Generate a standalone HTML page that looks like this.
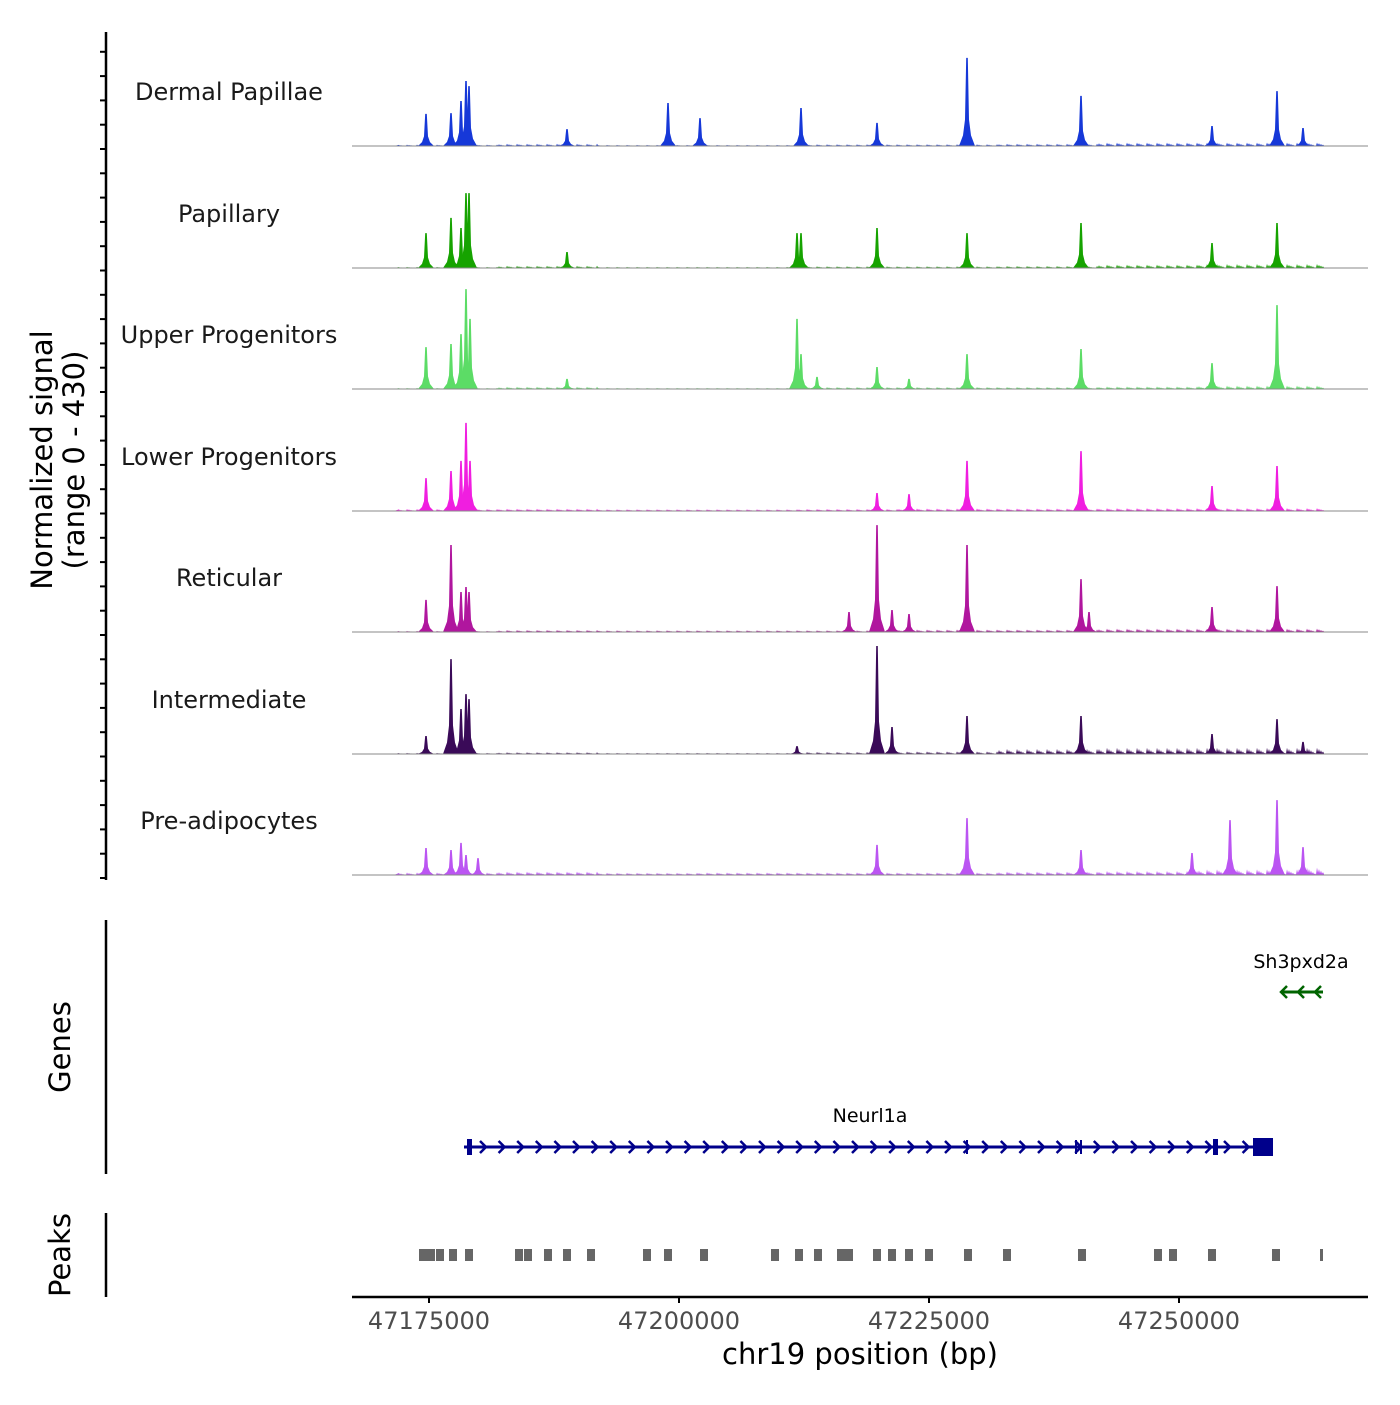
<!DOCTYPE html>
<html><head><meta charset="utf-8"><style>
body{margin:0;background:#fff}
svg text{font-family:"DejaVu Sans","Liberation Sans",sans-serif}
</style></head><body>
<svg id="chart" width="1400" height="1400" viewBox="0 0 1400 1400" xmlns="http://www.w3.org/2000/svg">
<rect width="1400" height="1400" fill="#fff"/>
<g id="tracks"></g>
<g id="leftaxis"></g>
<text transform="translate(52,460) rotate(-90)" text-anchor="middle" font-size="29">Normalized signal</text>
<text transform="translate(84,460) rotate(-90)" text-anchor="middle" font-size="29">(range 0 - 430)</text>
<line x1="106" y1="920" x2="106" y2="1174" stroke="#000" stroke-width="2.5"/>
<text transform="translate(70,1047) rotate(-90)" text-anchor="middle" font-size="29">Genes</text>
<line x1="106" y1="1213" x2="106" y2="1297" stroke="#000" stroke-width="2.5"/>
<text transform="translate(70,1255) rotate(-90)" text-anchor="middle" font-size="29">Peaks</text>
<g id="genes"></g>
<g id="peaks"></g>
<g id="xaxis"></g>
<text x="860" y="1364" text-anchor="middle" font-size="29">chr19 position (bp)</text>
</svg>
<script>
const trackNames = ["Dermal Papillae","Papillary","Upper Progenitors","Lower Progenitors","Reticular","Intermediate","Pre-adipocytes"];
const trackColors = ["#1638d8","#16a300","#5cdc66","#f01ee0","#b0169e","#3a0a58","#bb55f2"];
// peak positions (bp) and heights (normalized signal) per track
const dpPos = [47174700,47177200,47178200,47178700,47179000,47188800,47198900,47202100,47212200,47219800,47228800,47240200,47253300,47259800,47262400];
const dpVal = [114,117,160,231,213,60,153,99,135,82,313,178,71,195,64];
const papPos = [47174700,47177200,47178200,47178700,47179000,47188800,47211800,47212200,47219800,47228800,47240200,47253300,47259800];
const papVal = [124,178,142,266,266,57,124,124,142,124,160,89,160];
const upPos = [47174700,47177200,47178200,47178700,47179100,47188800,47211800,47212200,47213800,47219800,47223000,47228800,47240200,47253300,47259800];
const upVal = [149,160,195,355,249,36,249,124,43,78,36,124,142,92,298];
const lowPos = [47174700,47177200,47178200,47178700,47179100,47219800,47223000,47228800,47240200,47253300,47259800];
const lowVal = [117,142,178,313,178,64,60,178,213,89,160];
const retPos = [47174700,47177200,47178200,47178700,47179000,47217000,47219800,47221300,47223000,47228800,47240200,47241000,47253300,47259800];
const retVal = [114,309,142,160,142,71,380,78,64,309,188,71,89,163];
const intPos = [47174700,47177200,47178200,47178700,47179000,47211800,47219800,47221300,47228800,47240200,47253300,47259800,47262400];
const intVal = [64,337,160,213,195,28,384,96,135,135,71,124,43];
const prePos = [47174700,47177200,47178200,47178700,47179900,47219800,47228800,47240200,47251300,47255100,47259800,47262400];
const preVal = [96,89,114,71,60,107,202,89,78,195,266,99];
const trackPos = [dpPos,papPos,upPos,lowPos,retPos,intPos,prePos];
const trackVal = [dpVal,papVal,upVal,lowVal,retVal,intVal,preVal];
// background level per track over region bins
const bgBins = [47172000,47182000,47192000,47202000,47212000,47222000,47232000,47242000,47252000,47262000];
const dpBg = [5,8,4,4,6,6,8,12,12,12];
const papBg = [4,8,4,4,6,6,7,12,14,14];
const upBg = [4,8,4,4,7,7,7,9,12,12];
const lowBg = [7,8,6,6,7,9,9,10,10,10];
const retBg = [4,7,6,6,6,9,9,12,12,12];
const intBg = [4,6,4,4,7,9,18,22,22,22];
const preBg = [9,12,8,9,9,9,12,14,20,26];
const trackBg = [dpBg,papBg,upBg,lowBg,retBg,intBg,preBg];
const xTicks = [47175000,47200000,47225000,47250000];
const geneExons = [[47178800,47179300],[47228700,47228900],[47239600,47239800],[47240100,47240300],[47253400,47253900],[47257400,47259400]];
const peakStarts = [47174000,47174800,47175700,47177000,47178600,47183600,47184500,47186500,47188400,47190800,47196400,47198500,47202100,47209200,47211600,47213500,47215800,47216600,47219400,47220900,47222600,47224600,47228500,47232400,47239900,47247500,47249000,47252900,47259300];
const peakWidth = 800;

const NS="http://www.w3.org/2000/svg";
const X = bp => 429 + (bp-47175000)*0.01;
const baselines=[146,268,389,511,632,754,875];
const Y = (v,b)=> b - v*121/430;
const L=352,R=1368;
function mk(t,a,p){const e=document.createElementNS(NS,t);for(const k in a)e.setAttribute(k,a[k]);p.appendChild(e);return e;}
const tracks=document.getElementById('tracks');
trackNames.forEach((nm,i)=>{
  const b=baselines[i];
  const g=mk('g',{},tracks);
  
  
  let d='M'+X(47171500)+','+b;
  const bg=trackBg[i];
  bgBins.forEach((s,j)=>{
    const x0=X(s),x1=Math.min(X(s+10000),X(47264500));
    for(let x=x0;x<x1;x+=2){const h=bg[j]*(((x*7)%5)/5+0.2);d+=' L'+x+','+Y(h,b)+' L'+(x+1)+','+Y(h*0.3,b);}
  });
  d+=' L'+X(47264500)+','+b+' Z';
  const bp=mk('path',{d:d,fill:trackColors[i]},g);
  
  
  trackPos[i].forEach((p,j)=>{
    const x=X(p),v=trackVal[i][j];
    const pd='M'+(x-8)+','+b+' L'+(x-4)+','+Y(v*0.12,b)+' L'+(x-2)+','+Y(v*0.3,b)+' L'+(x-0.8)+','+Y(v,b)+' L'+(x+0.8)+','+Y(v,b)+' L'+(x+2)+','+Y(v*0.3,b)+' L'+(x+4)+','+Y(v*0.12,b)+' L'+(x+8)+','+b+' Z';
    const pk=mk('path',{d:pd,fill:trackColors[i]},g);
    
    
  });
  const bl=mk('line',{x1:L,x2:R,y1:b,y2:b,stroke:'#888','stroke-width':1},g);
  
  
  const t=mk('text',{x:229,y:b-46,'text-anchor':'middle','font-size':24,fill:'#1a1a1a'},g);
  t.textContent=nm;
  
  
});
const la=document.getElementById('leftaxis');
mk('line',{x1:106,y1:32,x2:106,y2:880,stroke:'#000','stroke-width':2.5},la);
for(let y=878;y>=34;y-=24.3){mk('line',{x1:100,x2:106,y1:y,y2:y,stroke:'#000','stroke-width':2},la);}
const ge=document.getElementById('genes');
const s1=mk('text',{x:1301,y:968,'text-anchor':'middle','font-size':19},ge);s1.textContent='Sh3pxd2a';


mk('line',{x1:1281,x2:1323,y1:992,y2:992,stroke:'#006400','stroke-width':3},ge);
[1287,1304,1321].forEach(x=>mk('path',{d:`M${x},986 L${x-6},992 L${x},998`,fill:'none',stroke:'#006400','stroke-width':2.5},ge));
const n1=mk('text',{x:870,y:1122,'text-anchor':'middle','font-size':19},ge);n1.textContent='Neurl1a';


mk('line',{x1:X(47178500),x2:X(47259400),y1:1147,y2:1147,stroke:'#00008b','stroke-width':3},ge);
for(let x=483;x<1250;x+=18.6){mk('path',{d:`M${x-3},1141 L${x+3},1147 L${x-3},1153`,fill:'none',stroke:'#00008b','stroke-width':2.5},ge);}
geneExons.forEach(e=>{const w=X(e[1])-X(e[0]);const h=w>10?18:(w>3?16:14);mk('rect',{x:X(e[0]),y:1147-h/2,width:w,height:h,fill:'#00008b'},ge);});
const pg=document.getElementById('peaks');
peakStarts.forEach(s=>{const r=mk('rect',{x:X(s),y:1249,width:peakWidth*0.01,height:12,fill:'#666'},pg);
 
 });
mk('rect',{x:X(47264100),y:1249,width:3,height:12,fill:'#666'},pg);
const xa=document.getElementById('xaxis');
mk('line',{x1:L,x2:R,y1:1297,y2:1297,stroke:'#000','stroke-width':2.5},xa);
xTicks.forEach(t=>{mk('line',{x1:X(t),x2:X(t),y1:1297,y2:1303,stroke:'#000','stroke-width':2},xa);
 const tx=mk('text',{x:X(t),y:1329,'text-anchor':'middle','font-size':24,fill:'#4d4d4d'},xa);tx.textContent=t;
 
 });
</script>
</body></html>
